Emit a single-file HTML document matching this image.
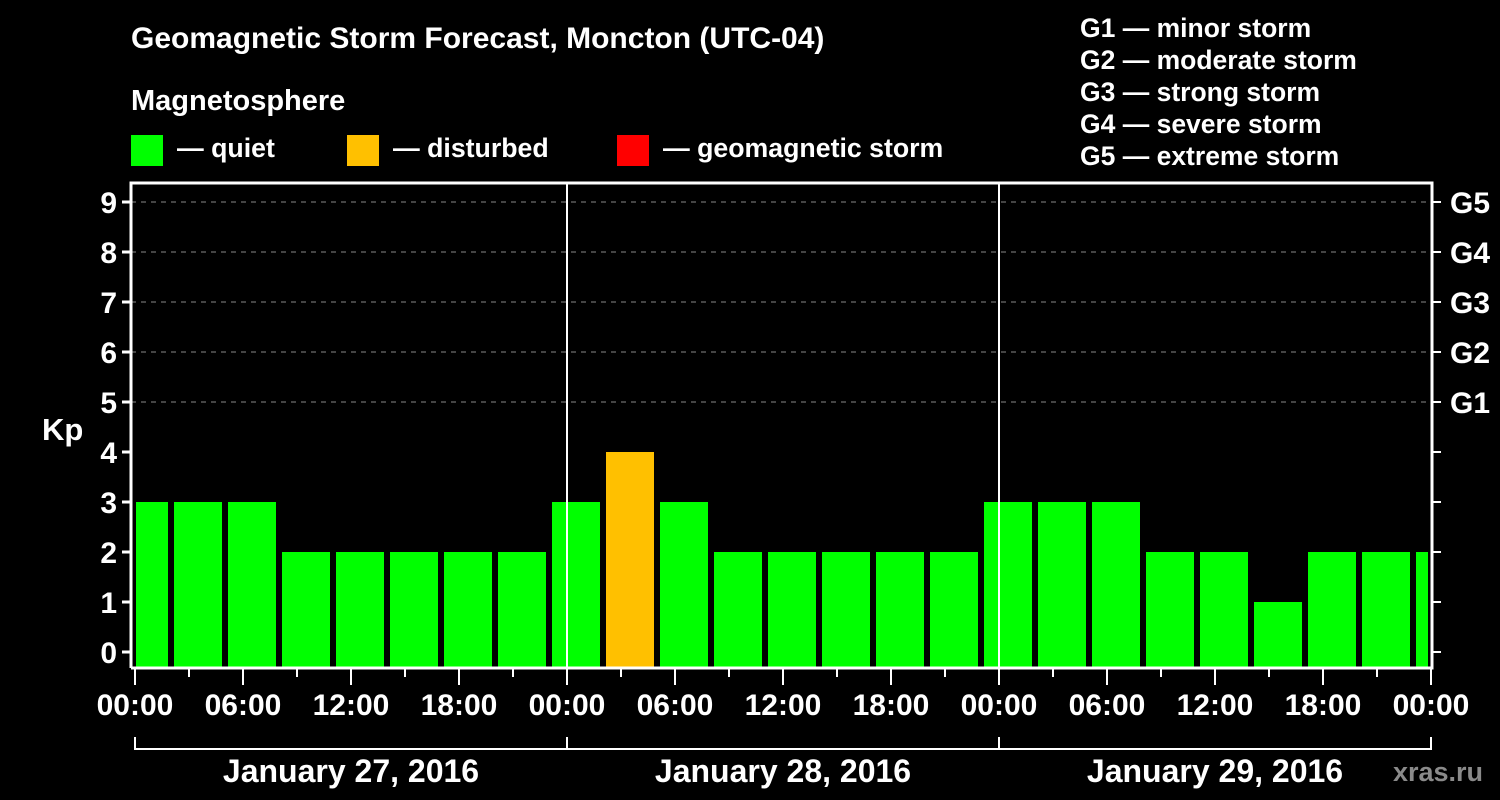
<!DOCTYPE html>
<html><head><meta charset="utf-8"><style>
body{margin:0;background:#000;width:1500px;height:800px;overflow:hidden}
svg{display:block}
text{font-family:"Liberation Sans",Arial,sans-serif;font-weight:bold;fill:#fff}
</style></head><body>
<svg id="c" width="1500" height="800">
<text x="131" y="48" font-size="30">Geomagnetic Storm Forecast, Moncton (UTC-04)</text>
<text x="131" y="110" font-size="29">Magnetosphere</text>
<g><rect x="131" y="135" width="32" height="31" fill="#00ff00"/><text x="177" y="157" font-size="26.7">— quiet</text></g>
<g><rect x="347" y="135" width="32" height="31" fill="#ffc000"/><text x="393" y="157" font-size="26.7">— disturbed</text></g>
<g><rect x="617" y="135" width="32" height="31" fill="#ff0000"/><text x="663" y="157" font-size="26.7">— geomagnetic storm</text></g>
<g font-size="26.5">
<text x="1080" y="37">G1 — minor storm</text>
<text x="1080" y="69">G2 — moderate storm</text>
<text x="1080" y="101">G3 — strong storm</text>
<text x="1080" y="133">G4 — severe storm</text>
<text x="1080" y="165">G5 — extreme storm</text>
</g>
<text x="42" y="440" font-size="31">Kp</text>
<text x="1483" y="781" font-size="27" text-anchor="end" style="fill:#8a8a8a">xras.ru</text>
<g id="plot"></g>
</svg>
<script>
const kpValues=[3,3,3,2,2,2,2,2,3,4,3,2,2,2,2,2,3,3,3,2,2,1,2,2,2];
const dayLabels=["January 27, 2016","January 28, 2016","January 29, 2016"];
const hourLabels=["00:00","06:00","12:00","18:00"];
const gLabels=["G1","G2","G3","G4","G5"];
const NS="http://www.w3.org/2000/svg";
const g=document.getElementById('plot');
const L=131,R=1432,T=183,B=668,X0=135,DAY=432;
const xH=h=>X0+h*DAY/24;
const yK=v=>652-50*v;
function mk(t,a,p){const e=document.createElementNS(NS,t);for(const k in a)e.setAttribute(k,a[k]);(p||g).appendChild(e);return e;}
const defs=mk('defs',{});const cp=mk('clipPath',{id:'pc'},defs);mk('rect',{x:136,y:T,width:1428-136,height:B-T},cp);
for(let k=5;k<=9;k++){const l=mk('line',{x1:L,x2:R,y1:yK(k),y2:yK(k),stroke:'#888','stroke-dasharray':'5 5','stroke-width':1});

}
const bg=mk('g',{'clip-path':'url(#pc)'});
kpValues.forEach((v,i)=>{const s=xH(-1+3*i);
const col=v>=5?'#ff0000':v>=4?'#ffc000':'#00ff00';
const r=mk('rect',{x:s+3,y:yK(v),width:48,height:B-yK(v),fill:col},bg);

});
for(let d=1;d<3;d++){const l=mk('line',{x1:xH(24*d),x2:xH(24*d),y1:T,y2:B,stroke:'#fff','stroke-width':2});

}
const f=mk('path',{d:`M${L} ${B}V${T}H${R}V${B}H${L}`,fill:'none',stroke:'#fff','stroke-width':3});


for(let k=0;k<=9;k++){const y=yK(k);
mk('line',{x1:L-9,x2:L,y1:y,y2:y,stroke:'#fff','stroke-width':3});
mk('line',{x1:R,x2:R+9,y1:y,y2:y,stroke:'#fff','stroke-width':2});
const t=mk('text',{x:117,y:y+11,'font-size':30,'text-anchor':'end'});t.textContent=k;


if(k>=5){const t2=mk('text',{x:1450,y:y+11,'font-size':30});t2.textContent=gLabels[k-5];

}}
for(let h=0;h<=72;h+=3){const x=xH(h);const maj=h%6==0;
mk('line',{x1:x,x2:x,y1:B,y2:B+(maj?17:9),stroke:'#fff','stroke-width':2});
if(maj){const t=mk('text',{x:x,y:715,'font-size':30,'text-anchor':'middle'});t.textContent=hourLabels[(h%24)/6];

}}
mk('path',{d:`M${xH(0)} 737V749H${xH(72)}V737M${xH(24)} 737V749M${xH(48)} 737V749`,fill:'none',stroke:'#fff','stroke-width':2});
dayLabels.forEach((d,i)=>{const t=mk('text',{x:xH(24*i+12),y:782,'font-size':32,'text-anchor':'middle'});t.textContent=d;

});
</script>
</body></html>
